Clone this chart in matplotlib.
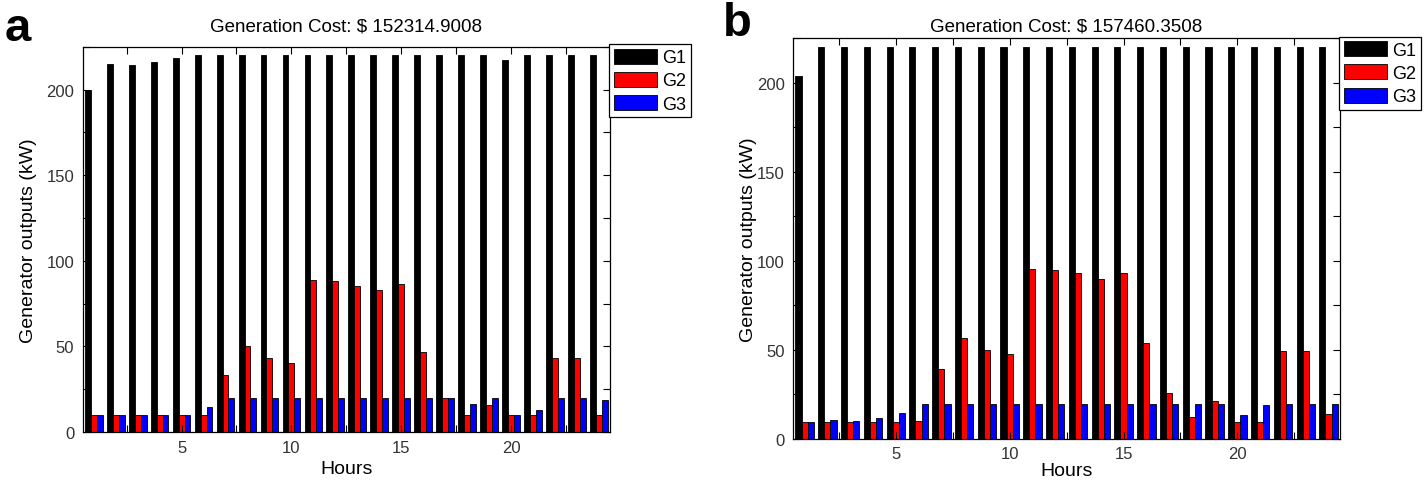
import numpy as np
import matplotlib.pyplot as plt
from matplotlib.ticker import MultipleLocator

plt.rcParams['font.family'] = ['Liberation Sans', 'DejaVu Sans']

hours = np.arange(1, 25)

# panel a
g1_a = [199.5, 215, 214.5, 216, 218.5, 220, 220, 220, 220, 220, 220, 220,
        220, 220, 220, 220, 220, 220, 220, 217, 220, 220, 220, 220]
g2_a = [10, 10, 10, 10, 10, 10, 33, 50, 43, 40.5, 88.5, 88,
        85.5, 83, 86.5, 47, 20, 10, 15.5, 10, 10, 43, 43, 10]
g3_a = [10, 10, 10, 10, 10, 14.5, 20, 20, 20, 20, 20, 20,
        20, 20, 20, 20, 20, 16.5, 20, 10, 13, 20, 20, 18.5]
cost_a = '152314.9008'

# panel b
g1_b = [204, 220, 220, 220, 220, 220, 220, 220, 220, 220, 220, 220,
        220, 220, 220, 220, 220, 220, 220, 220, 220, 220, 220, 220]
g2_b = [9.5, 9.5, 9.5, 9.5, 9.5, 10.3, 39.5, 56.5, 50, 47.5, 95.3, 94.7,
        93, 89.8, 93.5, 54, 25.8, 12.5, 21.2, 9.5, 9.5, 49.3, 49.3, 14.3]
g3_b = [9.7, 10.8, 10.3, 12, 14.5, 19.8, 19.8, 19.8, 19.8, 19.8, 19.8, 19.8,
        19.8, 19.8, 19.8, 19.8, 19.8, 19.8, 19.8, 13.3, 19.3, 19.8, 19.8, 19.8]
cost_b = '157460.3508'

names = ['G1', 'G2', 'G3']
colors = ['#000000', '#ff0000', '#0000ff']

fig = plt.figure(figsize=(14.28, 4.85), dpi=100)

panels = [
    dict(rect=[0.0579, 0.1072, 0.3693, 0.7944], data=[g1_a, g2_a, g3_a], cost=cost_a,
         letter='a', lpos=(0.003, 0.985), leg=(0.4265, 0.907), tpad=12, ylpad=7, xlpad=3, xtpad=6),
    dict(rect=[0.5555, 0.0928, 0.3828, 0.8258], data=[g1_b, g2_b, g3_b], cost=cost_b,
         letter='b', lpos=(0.506, 0.995), leg=(0.9377, 0.922), tpad=6, ylpad=0, xlpad=1, xtpad=5),
]

w = 0.27
for p in panels:
    ax = fig.add_axes(p['rect'])
    for i, (vals, c, n) in enumerate(zip(p['data'], colors, names)):
        ax.bar(hours + (i - 1) * w, vals, width=w, color=c, edgecolor='black',
               linewidth=0.6, label=n)
    ax.set_xlim(0.5, 24.5)
    ax.set_ylim(0, 225)
    ax.xaxis.set_major_locator(MultipleLocator(5))
    ax.xaxis.set_minor_locator(MultipleLocator(2.5))
    ax.yaxis.set_major_locator(MultipleLocator(50))
    ax.yaxis.set_minor_locator(MultipleLocator(25))
    ax.tick_params(which='both', direction='in', top=True, right=True, length=5,
                   width=0.8, labelsize=12, labelcolor='#333333')
    ax.tick_params(axis='y', pad=6)
    ax.tick_params(axis='x', pad=p['xtpad'])
    for s in ax.spines.values():
        s.set_linewidth(0.9)
    ax.set_xlabel('Hours', fontsize=14, labelpad=p['xlpad'])
    ax.set_ylabel('Generator outputs (kW)', fontsize=14, labelpad=p['ylpad'])
    ax.set_title('Generation Cost: $ ' + p['cost'], fontsize=13.5, pad=p['tpad'])
    fig.text(p['lpos'][0], p['lpos'][1], p['letter'], fontsize=34, fontweight='bold',
             va='top', ha='left')
    handles, labels = ax.get_legend_handles_labels()
    leg = fig.legend(handles, labels, loc='upper left', bbox_to_anchor=p['leg'],
                     fontsize=13, frameon=True, fancybox=False, edgecolor='black',
                     framealpha=1, borderaxespad=0, borderpad=0.25, handlelength=2.4,
                     handleheight=0.9, labelspacing=0.3, handletextpad=0.3)
    leg.get_frame().set_linewidth(0.9)

fig.savefig('out.png', dpi=100)
